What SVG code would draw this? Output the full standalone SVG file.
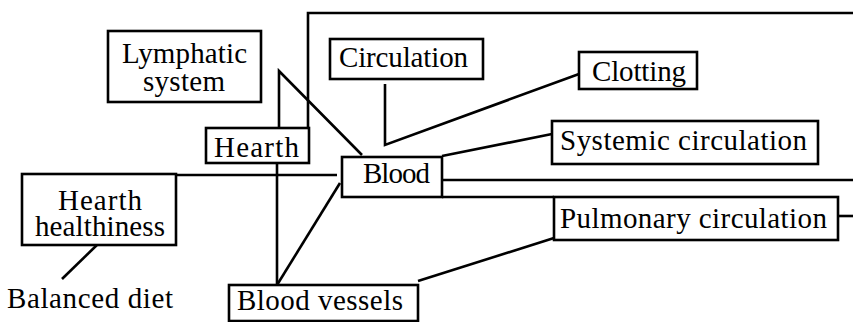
<svg xmlns="http://www.w3.org/2000/svg" width="853" height="322" viewBox="0 0 853 322">
  <style>
    .box { fill: #ffffff; stroke: #000000; stroke-width: 2.6; }
    .lbl { font-family: "Liberation Serif", "Times New Roman", serif; font-size: 29px; fill: #000000; }
    .conn { fill: none; stroke: #000000; stroke-width: 2.6; stroke-linejoin: miter; }
  </style>
  <rect width="853" height="322" fill="#ffffff"/>

  <!-- connectors -->
  <g id="connectors" class="conn">
    <polyline points="308,128 308,13 853,13"/>
    <polyline points="279,128 279,71 362,155"/>
    <polyline points="385,84 385,145 579,74"/>
    <line x1="442" y1="156" x2="552" y2="134"/>
    <line x1="442" y1="180" x2="853" y2="180"/>
    <line x1="442" y1="197" x2="554" y2="197"/>
    <line x1="838" y1="216" x2="853" y2="216"/>
    <line x1="554" y1="238" x2="418" y2="281"/>
    <line x1="176" y1="175" x2="337" y2="175"/>
    <line x1="277" y1="163" x2="277" y2="285"/>
    <line x1="277" y1="285" x2="340" y2="183"/>
    <line x1="99" y1="243" x2="62" y2="279"/>
  </g>

  <g id="lymphatic-system">
    <rect class="box" x="108" y="31" width="153" height="71"/>
    <text class="lbl" x="122" y="63" textLength="125">Lymphatic</text>
    <text class="lbl" x="143" y="91" textLength="82">system</text>
  </g>

  <g id="circulation">
    <rect class="box" x="330" y="39" width="153" height="40"/>
    <text class="lbl" x="339" y="67" textLength="129">Circulation</text>
  </g>

  <g id="clotting">
    <rect class="box" x="579" y="52" width="118" height="37"/>
    <text class="lbl" x="592" y="81" textLength="94">Clotting</text>
  </g>

  <g id="hearth">
    <rect class="box" x="206" y="128" width="103" height="35"/>
    <text class="lbl" x="214" y="157" textLength="85">Hearth</text>
  </g>

  <g id="systemic-circulation">
    <rect class="box" x="552" y="121" width="266" height="43"/>
    <text class="lbl" x="560" y="150" textLength="247">Systemic circulation</text>
  </g>

  <g id="blood">
    <rect class="box" x="342" y="157" width="100" height="40"/>
    <text class="lbl" x="363" y="183" textLength="67">Blood</text>
  </g>

  <g id="hearth-healthiness">
    <rect class="box" x="22" y="174" width="154" height="71"/>
    <text class="lbl" x="58" y="210" textLength="84">Hearth</text>
    <text class="lbl" x="35" y="236" textLength="130">healthiness</text>
  </g>

  <g id="pulmonary-circulation">
    <rect class="box" x="554" y="197" width="284" height="43"/>
    <text class="lbl" x="560" y="228" textLength="267">Pulmonary circulation</text>
  </g>

  <g id="blood-vessels">
    <rect class="box" x="229" y="285" width="189" height="36"/>
    <text class="lbl" x="237" y="310" textLength="166">Blood vessels</text>
  </g>

  <g id="balanced-diet">
    <text class="lbl" x="7" y="308" textLength="166">Balanced diet</text>
  </g>
</svg>
